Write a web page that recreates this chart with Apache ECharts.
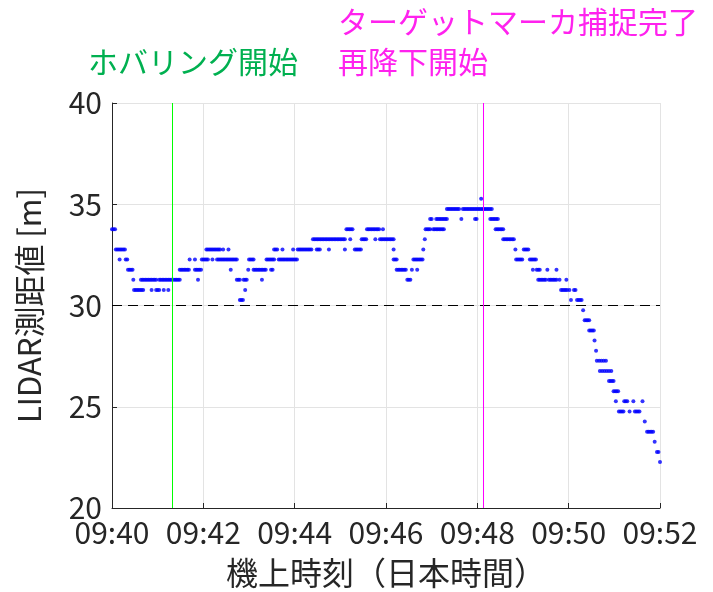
<!DOCTYPE html>
<html>
<head>
<meta charset="utf-8">
<script src="https://cdn.jsdelivr.net/npm/echarts@6/dist/echarts.min.js"></script>
<style>
html,body{margin:0;padding:0;background:#fff;}
#chart{width:713px;height:592px;}
</style>
</head>
<body>
<div id="chart"></div>
<script>
// x: seconds after 09:40:00 ; y: LIDAR distance [m]
const xTickLabels = ['09:40','09:42','09:44','09:46','09:48','09:50','09:52'];
const yTicks = [20, 25, 30, 35, 40];
const refDistance = 30;
const hoverStartSec = 79;    // ホバリング開始
const captureSec = 487.5;    // ターゲットマーカ捕捉完了 / 再降下開始

// [distance level, [sample times in s]]
const approachPts = [
  [33.77, [0,2,4]],
  [32.77, [5,7,9,11,13,15,17]],
  [32.27, [10,18,20]],
  [31.77, [21,23,25,27]],
  [31.27, [28,38,40,42,44,46,48,50,52,54,56,58,62,64,66,68,70,72,74,76,78]],
  [30.77, [29,31,33,35,37,39,41,52,58,60,62,68,74]]
];
const hoverPts = [
  [35.27, [485]],
  [34.77, [440,442,444,446,448,450,452,454,456,461,463,465,467,469,471,473,475,477,479,481,483,485,487]],
  [34.27, [418,420,426,428,430,432,434,436,438,440,459,477,479]],
  [33.77, [308,310,312,314,316,335,337,339,341,343,345,347,349,351,356,412,414,416,418,422,424,426,428,430,432,434,436]],
  [33.27, [264,266,268,270,272,274,276,278,280,282,284,286,288,290,292,294,296,298,300,302,304,306,313,328,330,332,334,346,352,354,356,358,360,362,364,366,368,370,411]],
  [32.77, [124,126,128,130,132,134,136,138,140,142,146,153,213,215,217,224,238,244,246,248,250,252,254,256,258,260,262,269,271,273,285,306,319,321,323,325,327,370,409]],
  [32.27, [102,109,118,120,122,124,126,132,138,140,142,144,146,148,150,152,154,156,158,160,162,164,180,182,184,186,203,205,207,209,211,213,219,221,223,225,227,229,231,233,235,237,239,241,243,370,372,374,396,398,400,402,404,406,408]],
  [31.77, [89,91,93,95,97,99,101,109,111,113,115,117,156,179,186,188,190,192,194,196,198,200,202,209,211,374,376,378,380,382,384,386,394,401]],
  [31.27, [81,83,85,87,89,113,164,166,168,173,175,177,197,388,390,392]],
  [30.77, [175]],
  [30.27, [168,170,172]]
];
const descentPts = [
  [34.77, [489,491,493,495,497,499]],
  [34.27, [497,499,501,503,505,507]],
  [33.77, [504,506,508,510,512,514]],
  [33.27, [514,516,518,520,522,524,526,528]],
  [32.77, [530,541,543,545,547]],
  [32.27, [531,533,535,537,539,549,551,553,555,557]],
  [31.77, [553,558,560,562,572,584]],
  [31.27, [560,562,564,566,568,570,574,576,578,580,582,584,588,597]],
  [30.77, [590,592,594,596,598,601,607,609]],
  [30.27, [603,611,613,615,617]],
  [29.77, [619]],
  [29.27, [621,623,625,627]],
  [28.77, [627,629,631,633]],
  [28.27, [634]],
  [27.77, [636]],
  [27.27, [637,640,643,646,649]],
  [26.77, [641,644,647,650,653,656]],
  [26.27, [653,655,657,659]],
  [25.77, [659,661,663,665]],
  [25.27, [662,673,675,677,685,697]],
  [24.77, [666,668,670,672,680,687,689,691,693]],
  [24.27, [700]],
  [23.77, [703,705,707,709,711]],
  [23.27, [713]],
  [22.77, [716,718]],
  [22.27, [720]]
];

function flatten(groups){
  const out = [];
  groups.forEach(([v, ts]) => ts.forEach(t => out.push([t, v])));
  return out;
}
const allPts = flatten(approachPts).concat(flatten(hoverPts), flatten(descentPts));

const FONT = '"Noto Sans CJK JP", "Noto Sans", sans-serif';
const TXT = '#262626';

const chart = echarts.init(document.getElementById('chart'), null, {renderer: 'canvas'});
chart.setOption({
  animation: false,
  backgroundColor: '#fff',
  grid: {left: 112, right: 53, top: 103, bottom: 84, containLabel: false, outerBoundsMode: 'none'},
  xAxis: {
    type: 'value', min: 0, max: 720, interval: 120,
    name: '機上時刻（日本時間）', nameLocation: 'middle', nameGap: 49,
    nameTextStyle: {fontFamily: FONT, fontSize: 32, color: TXT},
    axisLine: {show: true, lineStyle: {color: '#262626', width: 1}},
    axisTick: {show: true, inside: true, length: 5, lineStyle: {color: '#262626'}},
    axisLabel: {fontFamily: FONT, fontSize: 30, color: TXT, margin: 10,
      formatter: v => xTickLabels[Math.round(v / 120)] || ''},
    splitLine: {show: true, lineStyle: {color: '#e3e3e3', width: 1}}
  },
  yAxis: {
    type: 'value', min: yTicks[0], max: yTicks[yTicks.length - 1], interval: 5,
    name: 'LIDAR測距値 [m]', nameLocation: 'middle', nameGap: 67,
    nameTextStyle: {fontFamily: FONT, fontSize: 31, color: TXT},
    axisLine: {show: true, lineStyle: {color: '#262626', width: 1}},
    axisTick: {show: true, inside: true, length: 5, lineStyle: {color: '#262626'}},
    axisLabel: {fontFamily: FONT, fontSize: 30, color: TXT, margin: 10},
    splitLine: {show: true, lineStyle: {color: '#e3e3e3', width: 1}}
  },
  graphic: [
    {type: 'text', left: 88, top: 47, style: {text: 'ホバリング開始', font: '30px ' + FONT, fill: '#00b050'}},
    {type: 'text', left: 338, top: 7, style: {text: 'ターゲットマーカ捕捉完了', font: '30px ' + FONT, fill: '#ff22ee'}},
    {type: 'text', left: 338, top: 47, style: {text: '再降下開始', font: '30px ' + FONT, fill: '#ff22ee'}}
  ],
  series: [{
    type: 'scatter',
    data: allPts,
    symbol: 'circle',
    symbolSize: 4,
    itemStyle: {color: '#0000ff'},
    silent: true,
    markLine: {
      silent: true,
      symbol: ['none', 'none'],
      label: {show: false},
      data: [
        {yAxis: refDistance, lineStyle: {color: '#000', width: 1, type: [10, 6]}},
        {xAxis: hoverStartSec, lineStyle: {color: '#00ff00', width: 1, type: 'solid'}},
        {xAxis: captureSec, lineStyle: {color: '#ff00ff', width: 1, type: 'solid'}}
      ]
    }
  }]
});
</script>
</body>
</html>
